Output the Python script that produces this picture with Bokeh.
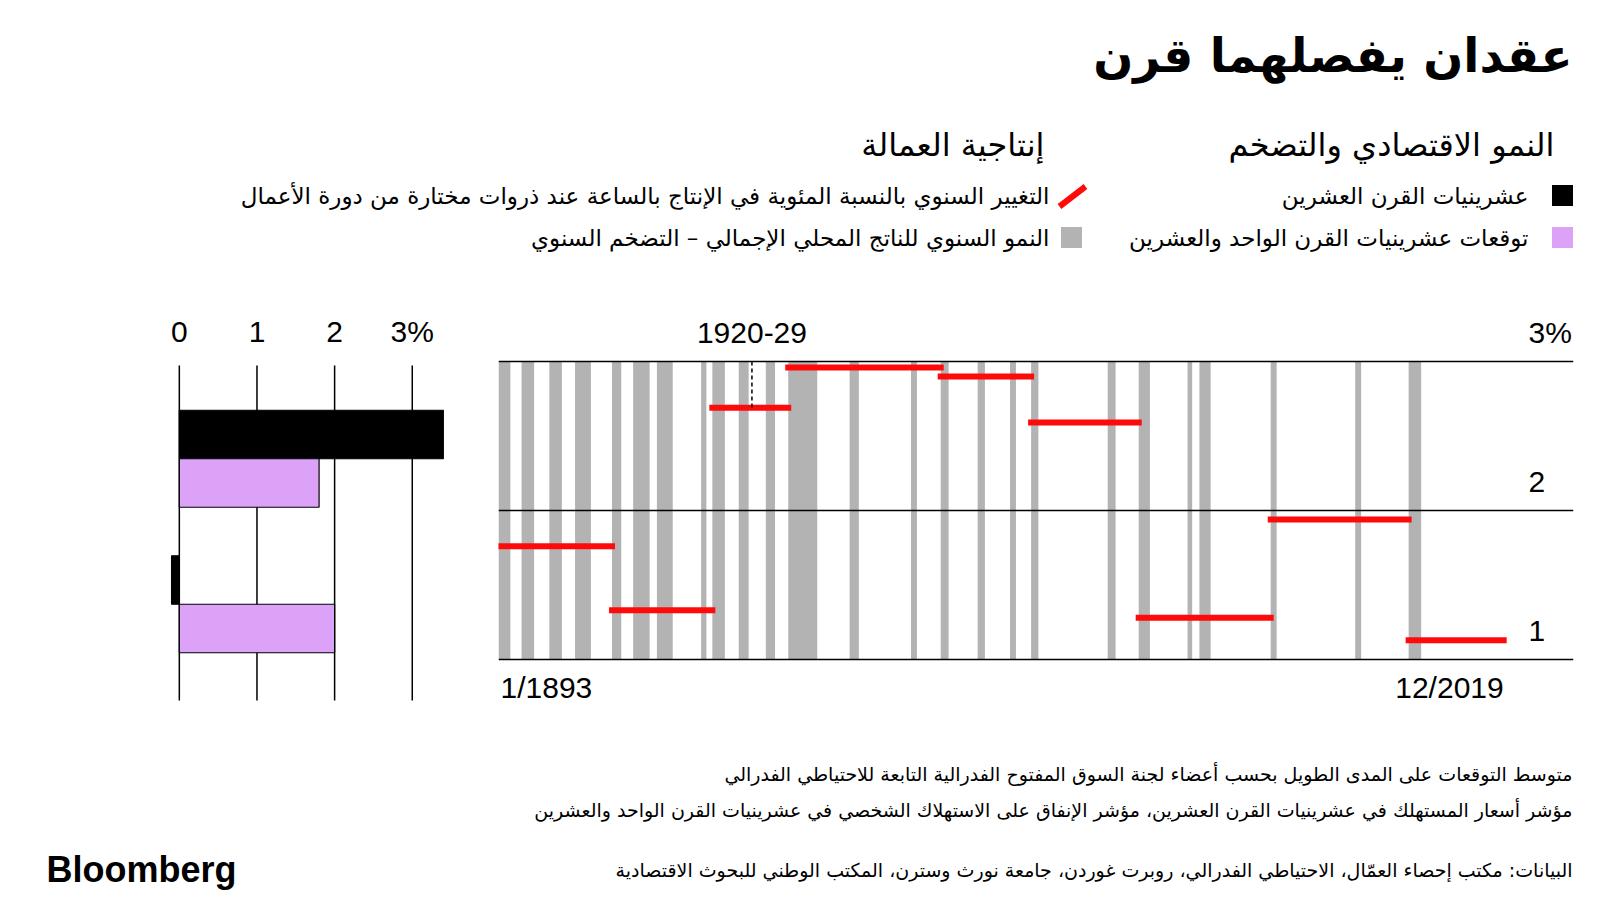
from bokeh.plotting import figure
from bokeh.models import Range1d, Span
from bokeh.layouts import column, row
from bokeh.core.properties import value
from bokeh.embed import file_html
from bokeh.resources import INLINE

# ---------------- data ----------------
title_text = "عقدان يفصلهما قرن"
left_heading = "النمو الاقتصادي والتضخم"
right_heading = "إنتاجية العمالة"
series_names = ["عشرينيات القرن العشرين", "توقعات عشرينيات القرن الواحد والعشرين"]
red_legend = "التغيير السنوي بالنسبة المئوية في الإنتاج بالساعة عند ذروات مختارة من دورة الأعمال"
gray_legend = "النمو السنوي للناتج المحلي الإجمالي – التضخم السنوي"
footnotes = [
    "متوسط التوقعات على المدى الطويل بحسب أعضاء لجنة السوق المفتوح الفدرالية التابعة للاحتياطي الفدرالي",
    "مؤشر أسعار المستهلك في عشرينيات القرن العشرين، مؤشر الإنفاق على الاستهلاك الشخصي في عشرينيات القرن الواحد والعشرين",
]
source_text = "البيانات: مكتب إحصاء العمّال، الاحتياطي الفدرالي، روبرت غوردن، جامعة نورث وسترن، المكتب الوطني للبحوث الاقتصادية"
brand = "Bloomberg"

bar_groups = ["النمو الاقتصادي", "التضخم"]
values_1920s = [3.4, -0.1]
values_2020s = [1.8, 2.0]
bar_ticks = [0, 1, 2, 3]
bar_tick_labels = ["0", "1", "2", "3%"]

recession_start = ["1893-01", "1895-12", "1899-06", "1902-09", "1907-05", "1910-01", "1913-01",
                   "1918-08", "1920-01", "1923-05", "1926-10", "1929-08", "1937-05", "1945-02",
                   "1948-11", "1953-07", "1957-08", "1960-04", "1969-12", "1973-11", "1980-01",
                   "1981-07", "1990-07", "2001-03", "2007-12"]
recession_end = ["1894-06", "1897-06", "1900-12", "1904-08", "1908-06", "1912-01", "1914-12",
                 "1919-03", "1921-07", "1924-07", "1927-11", "1933-03", "1938-06", "1945-10",
                 "1949-10", "1954-05", "1958-04", "1961-02", "1970-11", "1975-03", "1980-07",
                 "1982-11", "1991-03", "2001-11", "2009-06"]

cycle_peaks = ["1893-01", "1907-05", "1920-01", "1929-08", "1948-11", "1960-04",
               "1973-11", "1990-07", "2007-12", "2019-12"]
productivity_growth = [1.76, 1.33, 2.69, 2.96, 2.90, 2.59, 1.28, 1.94, 1.13]

decade_label = "1920-29"
decade_mid = 1925.0
decade_value = 2.69
period_labels = ["1/1893", "12/2019"]
line_ticks = [1, 2, 3]
line_tick_labels = ["1", "2", "3%"]

# ---------------- helpers ----------------
ARABIC = value("DejaVu Sans")
LATIN = value("Liberation Sans")
PURPLE = "#dca2f8"
GRAY = "#b3b3b3"
RED = "#ff0a0a"
NUM_SIZE = "30px"


def month_start(s):
    y, m = s.split("-")
    return int(y) + (int(m) - 1) / 12.0


def month_end(s):
    y, m = s.split("-")
    return int(y) + int(m) / 12.0


def blank(width, height, **kw):
    p = figure(width=width, height=height, output_backend="svg", toolbar_location=None,
               x_axis_location=None, y_axis_location=None, min_border=0,
               outline_line_color=None, background_fill_color="white",
               border_fill_color="white", **kw)
    p.grid.visible = False
    return p


# ---------------- header ----------------
hdr = blank(1600, 290, x_range=Range1d(0, 1600), y_range=Range1d(290, 0))
hdr.text(x=[1572], y=[55], text=[title_text], text_font=ARABIC, text_font_style="bold",
         text_font_size="47px", text_align="right", text_baseline="middle", text_color="black")
hdr.text(x=[1554, 1044], y=[144, 144], text=[left_heading, right_heading], text_font=ARABIC,
         text_font_size="32px", text_align="right", text_baseline="middle", text_color="black")
hdr.text(x=[1528, 1528], y=[195, 237], text=series_names, text_font=ARABIC,
         text_font_size="23px", text_align="right", text_baseline="middle", text_color="black")
hdr.text(x=[1049, 1049], y=[195, 237], text=[red_legend, gray_legend], text_font=ARABIC,
         text_font_size="23px", text_align="right", text_baseline="middle", text_color="black")
hdr.scatter(x=[1562, 1562, 1071], y=[195, 237, 237], marker="square", size=21,
            fill_color=["black", PURPLE, GRAY], line_color=None)
hdr.segment(x0=[1059], y0=[206], x1=[1085], y1=[186], line_color=RED, line_width=6)

# ---------------- left bar chart ----------------
# one slot per bar, groups separated by one empty slot
slot_y, slot_v, slot_c = [], [], []
for gi, g in enumerate(bar_groups):
    for si, vals in enumerate([values_1920s, values_2020s]):
        slot_y.append(-(gi * 3 + si))
        slot_v.append(vals[gi])
        slot_c.append(["black", PURPLE][si])

ypx = 48.5                      # pixels per slot
frame_top, frame_bot = 305, 715  # page pixels of the shared frame
first_bar_px = 434
grid_top_px, grid_bot_px = 365, 700
to_slot = lambda px: -(px - first_bar_px) / ypx

left = figure(width=480, height=440, output_backend="svg", toolbar_location=None,
              x_range=Range1d(-0.5, 3.75), y_range=Range1d(to_slot(frame_bot), to_slot(frame_top)),
              x_axis_location=None, y_axis_location=None,
              min_border_left=140, min_border_right=10, min_border_top=15, min_border_bottom=15,
              outline_line_color=None, background_fill_color="white", border_fill_color="white")
left.grid.visible = False
left.segment(x0=bar_ticks, x1=bar_ticks, y0=[to_slot(grid_top_px)] * len(bar_ticks),
             y1=[to_slot(grid_bot_px)] * len(bar_ticks), line_color="black", line_width=1.5)
left.hbar(y=slot_y, left=0, right=slot_v, height=1.0, fill_color=slot_c,
          line_color="black", line_width=1.2)
left.text(x=bar_ticks, y=[to_slot(grid_top_px)] * len(bar_ticks), text=bar_tick_labels,
          y_offset=-34, text_font=LATIN, text_font_size=NUM_SIZE, text_align="center",
          text_baseline="alphabetic", text_color="black")

# ---------------- right timeline ----------------
px_per_year = 7.92
x0 = month_start(cycle_peaks[0])
x1 = x0 + 1075 / px_per_year
ytop = 3 + (361 - frame_top) / 149.0
ybot = ytop - (frame_bot - frame_top) / 149.0
right = figure(width=1120, height=440, output_backend="svg", toolbar_location=None,
               x_range=Range1d(x0, x1), y_range=Range1d(ybot, ytop),
               x_axis_location=None, y_axis_location=None,
               min_border_left=18, min_border_right=27, min_border_top=15, min_border_bottom=15,
               outline_line_color=None, background_fill_color="white", border_fill_color="white")
right.grid.visible = False
right.quad(left=[month_start(s) for s in recession_start],
           right=[month_end(s) for s in recession_end],
           bottom=min(line_ticks), top=max(line_ticks), fill_color=GRAY, line_color=None)
right.segment(x0=[month_start(s) for s in cycle_peaks[:-1]],
              x1=[month_start(s) for s in cycle_peaks[1:]],
              y0=productivity_growth, y1=productivity_growth,
              line_color=RED, line_width=6, line_cap="square")
right.segment(x0=[decade_mid], x1=[decade_mid], y0=[max(line_ticks)], y1=[decade_value],
              line_color="black", line_width=1.5, line_dash="4 3")
for t in line_ticks:
    right.add_layout(Span(location=t, dimension="width", line_color="black", line_width=1.5))
right.text(x=[x1] * 3, y=line_ticks, text=line_tick_labels, x_offset=-45, y_offset=-29,
           text_font=LATIN, text_font_size=NUM_SIZE, text_align="left",
           text_baseline="alphabetic", text_color="black")
right.text(x=[decade_mid], y=[max(line_ticks)], text=[decade_label], y_offset=-29,
           text_font=LATIN, text_font_size=NUM_SIZE, text_align="center",
           text_baseline="alphabetic", text_color="black")
right.text(x=[month_start(cycle_peaks[0])], y=[min(line_ticks)], text=[period_labels[0]],
           x_offset=2, y_offset=28, text_font=LATIN, text_font_size=NUM_SIZE, text_align="left",
           text_baseline="alphabetic", text_color="black")
right.text(x=[month_start(cycle_peaks[-1])], y=[min(line_ticks)], text=[period_labels[1]],
           y_offset=28, text_font=LATIN, text_font_size=NUM_SIZE, text_align="right",
           text_baseline="alphabetic", text_color="black")

# ---------------- footer ----------------
ftr = blank(1600, 172, x_range=Range1d(0, 1600), y_range=Range1d(172, 0))
ftr.text(x=[1572, 1572, 1572], y=[43, 79, 139], text=footnotes + [source_text], text_font=ARABIC,
         text_font_size="19px", text_align="right", text_baseline="middle", text_color="black")
ftr.text(x=[46], y=[139], text=[brand], text_font=LATIN, text_font_style="bold",
         text_font_size="36px", text_align="left", text_baseline="middle", text_color="black")

layout = column(hdr, row(left, right, spacing=0), ftr, spacing=0)
open("out.html", "w").write(file_html(layout, INLINE))
